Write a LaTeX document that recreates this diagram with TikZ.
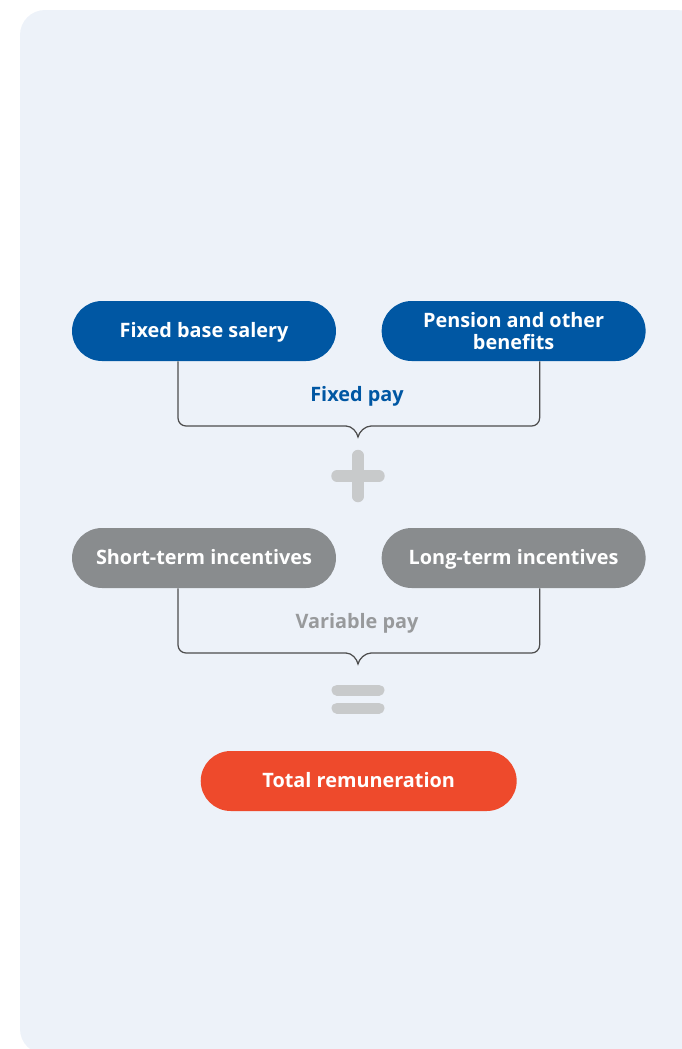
\documentclass[tikz,border=0pt]{standalone}
\usepackage{fontspec}
\setmainfont{Open Sans}
\usetikzlibrary{positioning}
\definecolor{panel}{RGB}{237, 242, 249}
\definecolor{fixblue}{RGB}{0, 87, 163}
\definecolor{vargray}{RGB}{137, 140, 142}
\definecolor{vartext}{RGB}{152, 154, 156}
\definecolor{signgray}{RGB}{200, 202, 203}
\definecolor{totalred}{RGB}{238, 74, 44}
\definecolor{braceline}{RGB}{77, 77, 77}
\tikzset{
    pill/.style={rounded corners=0.6cm, minimum width=5.28cm, minimum height=1.2cm, inner sep=0pt,
        align=center, text=white, font=\bfseries\fontsize{11.3}{12.5}\selectfont},
    oneline/.style={text height=1.55ex, text depth=0.25ex},
    paylabel/.style={font=\bfseries\fontsize{11.3}{13}\selectfont},
    bracket/.style={draw=braceline, line width=0.7pt},
    sign/.style={draw=signgray, line width=0.23cm, line cap=round}
}

\begin{document}
\begin{tikzpicture}[x=0.02cm, y=-0.02cm]
    \useasboundingbox (0,0) rectangle (681,1049);
    \fill[panel, rounded corners=0.5cm] (20,10) rectangle (702,1054);

    % fixed part
    \node[pill, oneline, fill=fixblue] (fbs) at (204,331) {Fixed base salery};
    \node[pill, fill=fixblue, right=0.9cm of fbs] (pob) {Pension and other\\benefits};
    \node[paylabel, text=fixblue] (fixpay) at (357,396) {Fixed pay};
    \coordinate (fixtip) at (358,437);
    \coordinate (fixl) at ([shift={(-12,-11)}]fixtip);
    \coordinate (fixr) at ([shift={(13,-11)}]fixtip);
    \draw[bracket, rounded corners=0.16cm] ([xshift=-0.52cm]fbs.south) |- (fixl);
    \draw[bracket, rounded corners=0.16cm] ([xshift=0.52cm]pob.south) |- (fixr);
    \draw[bracket] (fixl) .. controls +(6,0) and +(-1,-5) .. (fixtip)
        .. controls +(1,-5) and +(-6,0) .. (fixr);

    % plus
    \coordinate (plus) at (358,476);
    \draw[sign] ([xshift=-0.42cm]plus) -- ([xshift=0.42cm]plus);
    \draw[sign] ([yshift=0.41cm]plus) -- ([yshift=-0.41cm]plus);

    % variable part
    \node[pill, oneline, fill=vargray] (sti) at (204,558) {Short-term incentives};
    \node[pill, oneline, fill=vargray, right=0.9cm of sti] (lti) {Long-term incentives};
    \node[paylabel, text=vartext] (varpay) at (357,623) {Variable pay};
    \coordinate (vartip) at (358,664);
    \coordinate (varl) at ([shift={(-12,-11)}]vartip);
    \coordinate (varr) at ([shift={(13,-11)}]vartip);
    \draw[bracket, rounded corners=0.16cm] ([xshift=-0.52cm]sti.south) |- (varl);
    \draw[bracket, rounded corners=0.16cm] ([xshift=0.52cm]lti.south) |- (varr);
    \draw[bracket] (varl) .. controls +(6,0) and +(-1,-5) .. (vartip)
        .. controls +(1,-5) and +(-6,0) .. (varr);

    % equals
    \coordinate (equals) at (358,699);
    \draw[sign, line width=0.22cm] ([shift={(-21,-9)}]equals) -- ([shift={(21,-9)}]equals);
    \draw[sign, line width=0.22cm] ([shift={(-21,9)}]equals) -- ([shift={(21,9)}]equals);

    \node[pill, oneline, fill=totalred, minimum width=6.32cm] (total) at (358.7,781) {Total remuneration};
\end{tikzpicture}
\end{document}
